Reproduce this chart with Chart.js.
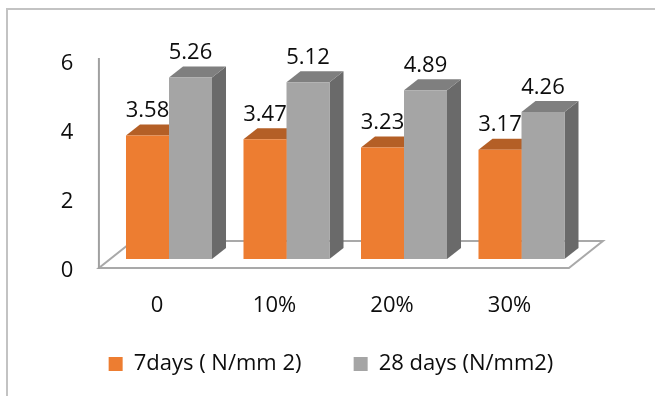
<!DOCTYPE html>
<html>
<head>
<meta charset="utf-8">
<script src="https://cdn.jsdelivr.net/npm/chart.js@4.4.1/dist/chart.umd.min.js"></script>
<style>
  html, body { margin: 0; padding: 0; background: #ffffff; }
  #wrap { width: 655px; height: 396px; position: relative; }
</style>
</head>
<body>
<div id="wrap"><canvas id="chart" width="655" height="396"></canvas></div>
<script>
// Compressive strength by replacement level
const categories = ['0', '10%', '20%', '30%'];
const strength7 = [3.58, 3.47, 3.23, 3.17];
const strength28 = [5.26, 5.12, 4.89, 4.26];
const yTicks = [0, 2, 4, 6];
const seriesNames = ['7days ( N/mm 2)', '28 days (N/mm2)'];

const FONT = { family: '"Open Sans", "DejaVu Sans", sans-serif', size: 22 };
const TEXT = '#0d0d0d';

// colours of the front, top and side faces of each series
const faces = [
  { front: '#ED7D31', top: '#B45F26', side: '#B0581F' },
  { front: '#A5A5A5', top: '#7F7F7F', side: '#6A6A6A' }
];

// floor depth (full) and bar depth, in pixels
const FLOOR = { x: 34, y: 27 };
const BAR = { x: 14, y: 11 };
const BAR_PLANE = 1 / 3;   // bars stand a third of the way into the floor

const PAD_LEFT = 7;
const PLOT_LEFT = 110.25;
const PLOT_RIGHT = 580.25;
const PAD_BOTTOM = 11;

// spacing between legend items so the second one starts where intended
const mctx = document.createElement('canvas').getContext('2d');
mctx.font = FONT.size + 'px ' + FONT.family;
const legendGap = Math.max(10, 245 - 14 - FONT.size / 2 - mctx.measureText(seriesNames[0]).width);

const box3d = {
  id: 'box3d',
  beforeDraw(chart) {
    const { ctx, width, height } = chart;
    ctx.save();
    ctx.fillStyle = '#ffffff';
    ctx.fillRect(0, 0, width, height);
    ctx.strokeStyle = '#C3C3C3';
    ctx.lineWidth = 2;
    ctx.strokeRect(7, 9, width + 20, height + 20);
    ctx.restore();
  },
  beforeDatasetsDraw(chart) {
    const { ctx, chartArea: a, scales: { y } } = chart;
    const base = y.getPixelForValue(0);
    const fx = -FLOOR.x * BAR_PLANE, fy = FLOOR.y * BAR_PLANE;
    const bx = FLOOR.x * (1 - BAR_PLANE), by = -FLOOR.y * (1 - BAR_PLANE);
    ctx.save();
    // floor outline
    ctx.strokeStyle = '#A9A9A9';
    ctx.lineWidth = 2;
    ctx.beginPath();
    ctx.moveTo(a.left + fx, base + fy);
    ctx.lineTo(a.right + fx, base + fy);
    ctx.lineTo(a.right + bx, base + by);
    ctx.lineTo(a.left + bx, base + by);
    ctx.closePath();
    ctx.stroke();
    // vertical axis line at the front-left corner
    ctx.strokeStyle = '#A0A0A0';
    ctx.beginPath();
    ctx.moveTo(a.left + fx, base + fy + 1);
    ctx.lineTo(a.left + fx, y.getPixelForValue(yTicks[yTicks.length - 1]) + fy - 3);
    ctx.stroke();
    // top and side faces of each bar
    chart.data.datasets.forEach((ds, di) => {
      const meta = chart.getDatasetMeta(di);
      meta.data.forEach(el => {
        const p = el.getProps(['x', 'y', 'base', 'width'], true);
        const x0 = p.x - p.width / 2, x1 = p.x + p.width / 2;
        ctx.fillStyle = faces[di].side;
        ctx.beginPath();
        ctx.moveTo(x1, p.y);
        ctx.lineTo(x1 + BAR.x, p.y - BAR.y);
        ctx.lineTo(x1 + BAR.x, p.base - BAR.y);
        ctx.lineTo(x1, p.base);
        ctx.closePath();
        ctx.fill();
        ctx.fillStyle = faces[di].top;
        ctx.beginPath();
        ctx.moveTo(x0, p.y);
        ctx.lineTo(x1, p.y);
        ctx.lineTo(x1 + BAR.x, p.y - BAR.y);
        ctx.lineTo(x0 + BAR.x, p.y - BAR.y);
        ctx.closePath();
        ctx.fill();
      });
    });
    ctx.restore();
  },
  afterDatasetsDraw(chart) {
    const { ctx } = chart;
    ctx.save();
    ctx.font = FONT.size + 'px ' + FONT.family;
    ctx.fillStyle = TEXT;
    ctx.textAlign = 'center';
    ctx.textBaseline = 'alphabetic';
    chart.data.datasets.forEach((ds, di) => {
      const meta = chart.getDatasetMeta(di);
      meta.data.forEach((el, i) => {
        const p = el.getProps(['x', 'y'], true);
        ctx.fillText(ds.data[i].toFixed(2), p.x, p.y - 18.5);
      });
    });
    ctx.restore();
  }
};

const noGrid = { display: false, drawTicks: false };

new Chart(document.getElementById('chart'), {
  type: 'bar',
  data: {
    labels: categories,
    datasets: [
      { label: seriesNames[0], data: strength7, backgroundColor: faces[0].front, borderWidth: 0 },
      { label: seriesNames[1], data: strength28, backgroundColor: faces[1].front, borderWidth: 0 }
    ]
  },
  options: {
    responsive: false,
    animation: false,
    devicePixelRatio: 1,
    categoryPercentage: 0.732,
    barPercentage: 1,
    layout: { padding: { left: PAD_LEFT, right: 0, top: 52, bottom: PAD_BOTTOM } },
    scales: {
      x: {
        grid: noGrid,
        border: { display: false },
        // mirrored so the labels are not clipped to the short axis box
        ticks: { font: FONT, color: TEXT, mirror: true, padding: -60.2, labelOffset: -12, maxRotation: 0 },
        afterFit: s => { s.height = 396 - PAD_BOTTOM - 32 - legendGap - 259; }
      },
      y: {
        min: 0,
        max: 6,
        grid: noGrid,
        border: { display: false },
        ticks: { font: FONT, color: TEXT, padding: 37, labelOffset: 12 },
        afterBuildTicks: s => { s.ticks = yTicks.map(v => ({ value: v })); },
        afterFit: s => { s.width = PLOT_LEFT - PAD_LEFT; }
      },
      yr: {
        position: 'right',
        display: true,
        grid: noGrid,
        border: { display: false },
        ticks: { display: false },
        afterFit: s => { s.width = 655 - PLOT_RIGHT; }
      }
    },
    plugins: {
      legend: {
        position: 'bottom',
        labels: { boxWidth: 14, boxHeight: 14, padding: legendGap, font: FONT, color: TEXT }
      },
      tooltip: { enabled: false }
    }
  },
  plugins: [box3d]
});
</script>
</body>
</html>
